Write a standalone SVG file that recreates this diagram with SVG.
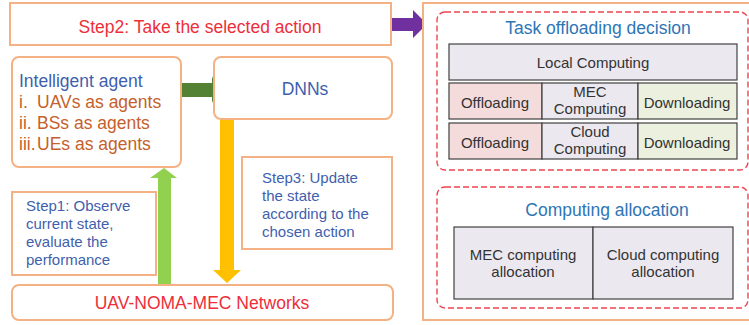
<svg xmlns="http://www.w3.org/2000/svg" width="749" height="325" viewBox="0 0 749 325">
<style>
text{font-family:"Liberation Sans",Arial,sans-serif;}
.ob{fill:#ffffff;stroke:#f4b183;stroke-width:2;}
.dash{fill:#ffffff;stroke:#ee4452;stroke-width:1.4;stroke-dasharray:6 3;}
.cell{stroke:#404040;stroke-width:1.2;}
.red{fill:#ee2f3a;font-size:17.5px;}
.blue{fill:#3f5fae;}
.lblue{fill:#2e75b6;font-size:17.5px;}
.org{fill:#c55f2c;font-size:17.5px;}
.dk{fill:#333333;font-size:15px;}
.s15{font-size:15px;}
</style>
<g id="connectors">
<polygon points="391,18 413,18 413,10 427,24 413,38 413,31 391,31" fill="#7030a0"/>
<polygon points="181,83 212,83 212,76 217,90 212,103 212,97 181,97" fill="#548235"/>
<polygon points="220,119 234,119 234,270 241,270 227,283 213,270 220,270" fill="#ffc000"/>
<polygon points="158,285 158,178 150,178 164,168 177,178 171,178 171,285" fill="#92d050"/>
</g>
<g id="step2">
<rect class="ob" x="10" y="3" width="381" height="42"/>
<text class="red" x="200" y="33" text-anchor="middle">Step2: Take the selected action</text>
</g>
<g id="agent">
<rect class="ob" x="12" y="57" width="169" height="110" rx="7"/>
<text class="blue" x="19" y="87" font-size="17.5">Intelligent agent</text>
<text class="org" x="19" y="108">i.</text><text class="org" x="37" y="108">UAVs as agents</text>
<text class="org" x="19" y="129">ii.</text><text class="org" x="37" y="129">BSs as agents</text>
<text class="org" x="19" y="150">iii.</text><text class="org" x="37" y="150">UEs as agents</text>
</g>
<g id="dnns">
<rect class="ob" x="214" y="57" width="178" height="62" rx="7"/>
<text class="blue" x="305" y="95" font-size="17.5" text-anchor="middle">DNNs</text>
</g>
<g id="step3">
<rect class="ob" x="242" y="157" width="150" height="92"/>
<text class="blue s15" x="262" y="183">Step3: Update</text>
<text class="blue s15" x="262" y="201">the state</text>
<text class="blue s15" x="262" y="219">according to the</text>
<text class="blue s15" x="262" y="237">chosen action</text>
</g>
<g id="step1">
<rect class="ob" x="12" y="192" width="144" height="83"/>
<text class="blue s15" x="26" y="211">Step1: Observe</text>
<text class="blue s15" x="26" y="229">current state,</text>
<text class="blue s15" x="26" y="247">evaluate the</text>
<text class="blue s15" x="26" y="265">performance</text>
</g>
<g id="network">
<rect class="ob" x="12" y="285" width="381" height="35" rx="7"/>
<text class="red" x="202" y="309" text-anchor="middle">UAV-NOMA-MEC Networks</text>
</g>
<g id="right-panel">
<rect class="ob" x="423" y="3" width="340" height="317"/>
</g>
<g id="task-offloading">
<rect class="dash" x="437" y="12" width="311" height="158" rx="8"/>
<text class="lblue" x="598" y="34" text-anchor="middle">Task offloading decision</text>
<rect class="cell" x="449" y="44" width="288" height="36" fill="#ebe8f0"/>
<text class="dk" x="593" y="68" text-anchor="middle">Local Computing</text>
<rect class="cell" x="449" y="83" width="93" height="36" fill="#f4dcdc"/>
<rect class="cell" x="542" y="83" width="96" height="36" fill="#ebe8f0"/>
<rect class="cell" x="638" y="83" width="99" height="36" fill="#ebf1de"/>
<text class="dk" x="495" y="108" text-anchor="middle">Offloading</text>
<text class="dk" x="590" y="97" text-anchor="middle">MEC</text>
<text class="dk" x="590" y="114" text-anchor="middle">Computing</text>
<text class="dk" x="687" y="108" text-anchor="middle">Downloading</text>
<rect class="cell" x="449" y="123" width="93" height="36" fill="#f4dcdc"/>
<rect class="cell" x="542" y="123" width="96" height="36" fill="#ebe8f0"/>
<rect class="cell" x="638" y="123" width="99" height="36" fill="#ebf1de"/>
<text class="dk" x="495" y="148" text-anchor="middle">Offloading</text>
<text class="dk" x="590" y="137" text-anchor="middle">Cloud</text>
<text class="dk" x="590" y="154" text-anchor="middle">Computing</text>
<text class="dk" x="687" y="148" text-anchor="middle">Downloading</text>
</g>
<g id="computing-allocation">
<rect class="dash" x="437" y="187" width="311" height="121" rx="8"/>
<text class="lblue" x="607" y="216" text-anchor="middle">Computing allocation</text>
<rect class="cell" x="454" y="227" width="139" height="72" fill="#ebe8f0"/>
<rect class="cell" x="593" y="227" width="140" height="72" fill="#ebe8f0"/>
<text class="dk" x="523" y="260" text-anchor="middle">MEC computing</text>
<text class="dk" x="523" y="277" text-anchor="middle">allocation</text>
<text class="dk" x="663" y="260" text-anchor="middle">Cloud computing</text>
<text class="dk" x="663" y="277" text-anchor="middle">allocation</text>
</g>
</svg>
